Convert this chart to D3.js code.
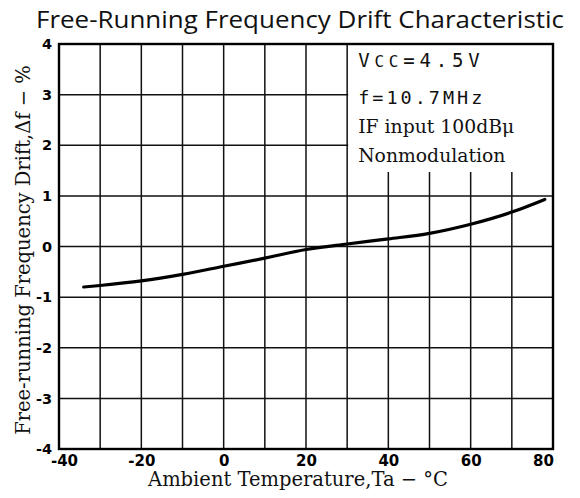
<!DOCTYPE html>
<html>
<head>
<meta charset="utf-8">
<script src="https://cdn.jsdelivr.net/npm/d3@7"></script>
<style>
  html, body { margin: 0; padding: 0; background: #fff; }
  svg { display: block; }
</style>
</head>
<body>
<svg id="chart" width="580" height="498"></svg>
<script>
// Free-running frequency drift vs. ambient temperature
const temperature = [-34, -30, -20, -10, 0, 10, 20, 30, 40, 50, 60, 70, 78];
const drift = [-0.80, -0.77, -0.68, -0.55, -0.39, -0.23, -0.06, 0.05, 0.15, 0.26, 0.44, 0.68, 0.93];

const xTickLabels = [-40, -20, 0, 20, 40, 60, 80];
const yTickLabels = [4, 3, 2, 1, 0, -1, -2, -3, -4];
const xGrid = d3.range(-40, 81, 10);
const yGrid = d3.range(-4, 5, 1);

const conditions = ["f=10.7MHz", "IF input 100dBμ", "Nonmodulation"];

const svg = d3.select("#chart");
const plotLeft = 59, plotRight = 553, plotTop = 44, plotBottom = 449;

const x = d3.scaleLinear().domain([-40, 80]).range([plotLeft, plotRight]);
const y = d3.scaleLinear().domain([-4, 4]).range([plotBottom, plotTop]);

// title
svg.append("text")
  .attr("x", 300).attr("y", 28)
  .attr("text-anchor", "middle")
  .attr("font-family", "'Open Sans', 'Noto Sans', sans-serif")
  .attr("font-size", 24)
  .attr("textLength", 528)
  .attr("lengthAdjust", "spacingAndGlyphs")
  .attr("fill", "#111")
  .text("Free-Running Frequency Drift Characteristic");

// grid
const grid = svg.append("g").attr("stroke", "#111").attr("stroke-width", 1.5);
grid.selectAll("line.v").data(xGrid).join("line")
  .attr("class", "v")
  .attr("x1", d => x(d)).attr("x2", d => x(d))
  .attr("y1", plotTop).attr("y2", plotBottom);
grid.selectAll("line.h").data(yGrid).join("line")
  .attr("class", "h")
  .attr("x1", plotLeft).attr("x2", plotRight)
  .attr("y1", d => y(d)).attr("y2", d => y(d));

// conditions box (blank area over the grid)
const boxLeft = x(30);
svg.append("rect")
  .attr("x", boxLeft + 1).attr("y", plotTop)
  .attr("width", plotRight - boxLeft - 1).attr("height", 172 - plotTop)
  .attr("fill", "#fff");

const note = svg.append("g").attr("fill", "#111");
const vcc = note.append("text")
  .attr("x", boxLeft + 11).attr("y", 67)
  .attr("font-family", "'DejaVu Sans Mono', monospace")
  .attr("font-size", 19)
  .attr("letter-spacing", 4.8);
vcc.append("tspan").text("V");
vcc.append("tspan").attr("font-size", 16).text("CC");
vcc.append("tspan").text("=4.5V");

note.append("text")
  .attr("x", boxLeft + 11).attr("y", 104)
  .attr("font-family", "'DejaVu Sans Mono', monospace")
  .attr("font-size", 18.5)
  .attr("letter-spacing", 3)
  .text(conditions[0]);

note.selectAll("text.serif").data(conditions.slice(1)).join("text")
  .attr("class", "serif")
  .attr("x", boxLeft + 11)
  .attr("y", (d, i) => 133 + i * 29)
  .attr("font-family", "'DejaVu Serif', serif")
  .attr("font-size", 18.8)
  .text(d => d);

// curve
const line = d3.line()
  .x((d, i) => x(temperature[i]))
  .y(d => y(d))
  .curve(d3.curveMonotoneX);
svg.append("path")
  .datum(drift)
  .attr("d", line)
  .attr("fill", "none")
  .attr("stroke", "#000")
  .attr("stroke-width", 3.2)
  .attr("stroke-linecap", "round");

// frame
svg.append("rect")
  .attr("x", plotLeft).attr("y", plotTop)
  .attr("width", plotRight - plotLeft).attr("height", plotBottom - plotTop)
  .attr("fill", "none").attr("stroke", "#000").attr("stroke-width", 2.4);

// axes with labels only
const xAxis = d3.axisBottom(x).tickValues(xTickLabels).tickSize(0).tickPadding(6);
const gx = svg.append("g").attr("transform", `translate(0,${plotBottom})`).call(xAxis);
gx.select(".domain").remove();
gx.selectAll("text")
  .attr("font-family", "'DejaVu Sans', sans-serif")
  .attr("font-weight", "bold")
  .attr("font-size", 15)
  .attr("fill", "#000")
  .attr("dx", d => d === -40 ? 5 : (d === 80 ? -10 : 0))
  .text(d => d);

const yAxis = d3.axisLeft(y).tickValues(yTickLabels).tickSize(0).tickPadding(7);
const gy = svg.append("g").attr("transform", `translate(${plotLeft},0)`).call(yAxis);
gy.select(".domain").remove();
gy.selectAll("text")
  .attr("font-family", "'DejaVu Sans', sans-serif")
  .attr("font-weight", "bold")
  .attr("font-size", 14.5)
  .attr("fill", "#000")
  .text(d => d);

// axis titles
svg.append("text")
  .attr("x", 298).attr("y", 486)
  .attr("text-anchor", "middle")
  .attr("font-family", "'DejaVu Serif', serif")
  .attr("font-size", 19.5)
  .attr("fill", "#111")
  .text("Ambient Temperature,Ta − °C");

svg.append("text")
  .attr("transform", "translate(30,250) rotate(-90)")
  .attr("text-anchor", "middle")
  .attr("font-family", "'DejaVu Serif', serif")
  .attr("font-size", 19.5)
  .attr("fill", "#111")
  .text("Free-running Frequency Drift,Δf − %");
</script>
</body>
</html>
